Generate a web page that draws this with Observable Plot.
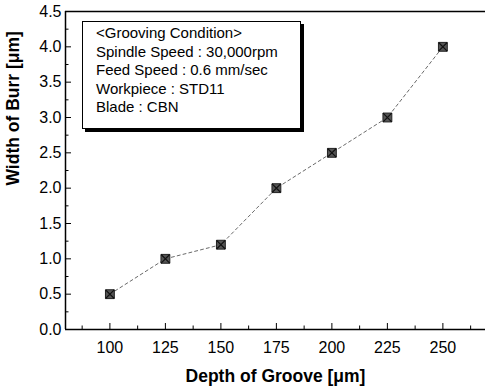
<!DOCTYPE html>
<html><head><meta charset="utf-8">
<script src="https://cdn.jsdelivr.net/npm/d3@7"></script>
<script src="https://cdn.jsdelivr.net/npm/@observablehq/plot@0.6"></script>
<style>
body{margin:0;background:#fff;font-family:"Liberation Sans",Arial,sans-serif;}
#wrap{position:relative;width:485px;height:389px;overflow:hidden;}
#legend{position:absolute;left:82px;top:21px;width:219px;height:108px;border:1px solid #000;box-shadow:3px 3px 0 #000;background:#fff;font-size:15px;line-height:18.5px;padding:2px 0 0 13px;box-sizing:border-box;color:#000;white-space:nowrap;}
</style></head><body>
<div id="wrap"></div>
<script>
const depth = [100, 125, 150, 175, 200, 225, 250];
const burr = [0.5, 1.0, 1.2, 2.0, 2.5, 3.0, 4.0];
const xTicks = [100, 125, 150, 175, 200, 225, 250];
const xMinor = [87.5, 112.5, 137.5, 162.5, 187.5, 212.5, 237.5, 262.5];
const yTicks = [0, 0.5, 1.0, 1.5, 2.0, 2.5, 3.0, 3.5, 4.0, 4.5];
const yMinor = [0.25, 0.75, 1.25, 1.75, 2.25, 2.75, 3.25, 3.75, 4.25];
const legendLines = ["<Grooving Condition>", "Spindle Speed : 30,000rpm", "Feed Speed : 0.6 mm/sec", "Workpiece : STD11", "Blade : CBN"];
const data = depth.map((d, i) => ({depth: d, burr: burr[i]}));

const xmin = 80, xmax = 269.2;
const pxPerX = 420 / (xmax - xmin);
const pxPerY = 318 / 4.5;

const chart = Plot.plot({
  width: 485, height: 389,
  marginLeft: 65, marginRight: 0, marginTop: 11, marginBottom: 60,
  style: {fontFamily: "Liberation Sans, Arial, sans-serif", fontSize: "16px", color: "#000"},
  x: {domain: [xmin, xmax], ticks: xTicks, tickSize: 0, tickPadding: 12, tickFormat: d => d,
      label: "Depth of Groove [μm]", labelAnchor: "center", labelOffset: 52, labelArrow: "none"},
  y: {domain: [0, 4.5], ticks: yTicks, tickSize: 0, tickPadding: 4, tickFormat: d3.format(".1f"), label: null},
  marks: [
    Plot.ruleY([0], {strokeWidth: 1.5}),
    Plot.ruleY([4.5], {strokeWidth: 1.5}),
    Plot.ruleX([xmin], {strokeWidth: 1.5}),
    Plot.ruleX(xTicks, {x: d => d, y1: 0, y2: 6 / pxPerY, strokeWidth: 1}),
    Plot.ruleX(xMinor, {x: d => d, y1: 0, y2: 3.5 / pxPerY, strokeWidth: 1}),
    Plot.ruleY(yTicks, {y: d => d, x1: xmin, x2: xmin + 6 / pxPerX, strokeWidth: 1}),
    Plot.ruleY(yMinor, {y: d => d, x1: xmin, x2: xmin + 3.5 / pxPerX, strokeWidth: 1}),
    Plot.line(data, {x: "depth", y: "burr", stroke: "#444", strokeWidth: 0.8, strokeDasharray: "3,3"}),
    Plot.dot(data, {x: "depth", y: "burr", symbol: "square", r: 5, fill: "#555", stroke: "#222", strokeWidth: 1}),
    Plot.dot(data, {x: "depth", y: "burr", symbol: "times", r: 4, stroke: "#111", strokeWidth: 1.2}),
    Plot.text(["Width of Burr [μm]"], {frameAnchor: "left", rotate: -90, dx: -52, dy: 15, fontWeight: "bold", fontSize: 17.5})
  ]
});
chart.querySelectorAll('g[aria-label="x-axis label"]').forEach(e => {e.setAttribute("font-weight","bold"); e.setAttribute("font-size","17.5");});
const wrap = document.getElementById("wrap");
wrap.appendChild(chart);
const leg = document.createElement("div");
leg.id = "legend";
leg.innerHTML = legendLines.map(s => `<div>${s.replace(/</g,"&lt;").replace(/>/g,"&gt;")}</div>`).join("");
wrap.appendChild(leg);
</script>
</body></html>
